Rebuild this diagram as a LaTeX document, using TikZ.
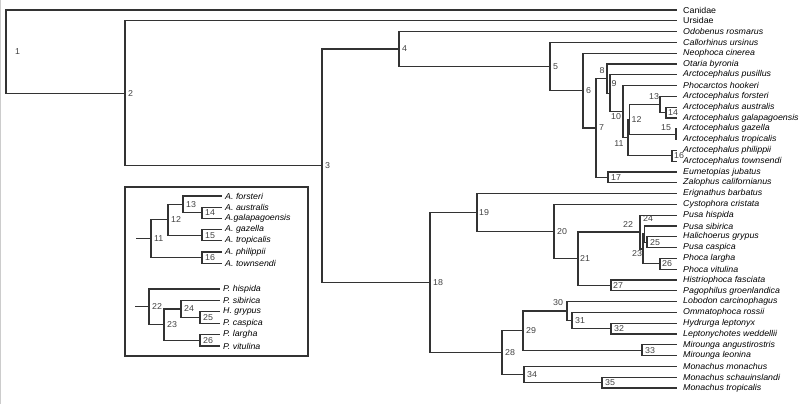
\documentclass[tikz,border=0pt]{standalone}
\usepackage{fontspec}
\setmainfont[FakeStretch=1.04]{Liberation Sans}
\usetikzlibrary{positioning}

\begin{document}
\begin{tikzpicture}[
  x=1pt, y=-1pt,
  branch/.style={draw=black!80, line width=1.25pt},
  leaf/.style={anchor=west, inner xsep=6pt, inner ysep=0pt, font=\fontsize{8.5}{9}\selectfont\itshape},
  taxon/.style={leaf, font=\fontsize{8.5}{9}\selectfont},
  inleaf/.style={leaf, inner xsep=3pt},
  num/.style={inner sep=0pt, font=\fontsize{8.5}{9}\selectfont, text=black!75},
  node distance=3pt,
]
\useasboundingbox (0,0) rectangle (803,404);
\draw[gray!40, line width=1pt] (0.5,0) -- (0.5,404);

% taxa of the main tree
\node[taxon] (canidae) at (677,10) {Canidae};
\node[taxon] (ursidae) at (677,20.8) {Ursidae};
\node[leaf] (odobenus) at (677,31.6) {Odobenus rosmarus};
\node[leaf] (callorhinus) at (677,42.4) {Callorhinus ursinus};
\node[leaf] (neophoca) at (677,53.2) {Neophoca cinerea};
\node[leaf] (otaria) at (677,64) {Otaria byronia};
\node[leaf] (pusillus) at (677,74.8) {Arctocephalus pusillus};
\node[leaf] (phocarctos) at (677,85.6) {Phocarctos hookeri};
\node[leaf] (forsteri) at (677,96.4) {Arctocephalus forsteri};
\node[leaf] (australis) at (677,107.2) {Arctocephalus australis};
\node[leaf] (galapagoensis) at (677,118) {Arctocephalus galapagoensis};
\node[leaf] (gazella) at (677,128.8) {Arctocephalus gazella};
\node[leaf] (tropicalis) at (677,139.6) {Arctocephalus tropicalis};
\node[leaf] (philippii) at (677,150.4) {Arctocephalus philippii};
\node[leaf] (townsendi) at (677,161.2) {Arctocephalus townsendi};
\node[leaf] (eumetopias) at (677,172) {Eumetopias jubatus};
\node[leaf] (zalophus) at (677,182.8) {Zalophus californianus};
\node[leaf] (erignathus) at (677,193.6) {Erignathus barbatus};
\node[leaf] (cystophora) at (677,204.4) {Cystophora cristata};
\node[leaf] (hispida) at (677,215.2) {Pusa hispida};
\node[leaf] (sibirica) at (677,226) {Pusa sibirica};
\node[leaf] (halichoerus) at (677,236.8) {Halichoerus grypus};
\node[leaf] (caspica) at (677,247.6) {Pusa caspica};
\node[leaf] (largha) at (677,258.4) {Phoca largha};
\node[leaf] (vitulina) at (677,269.2) {Phoca vitulina};
\node[leaf] (histriophoca) at (677,280) {Histriophoca fasciata};
\node[leaf] (pagophilus) at (677,290.8) {Pagophilus groenlandica};
\node[leaf] (lobodon) at (677,301.6) {Lobodon carcinophagus};
\node[leaf] (ommatophoca) at (677,312.4) {Ommatophoca rossii};
\node[leaf] (hydrurga) at (677,323.2) {Hydrurga leptonyx};
\node[leaf] (leptonychotes) at (677,334) {Leptonychotes weddellii};
\node[leaf] (angustirostris) at (677,344.8) {Mirounga angustirostris};
\node[leaf] (leonina) at (677,355.6) {Mirounga leonina};
\node[leaf] (monachus) at (677,366.4) {Monachus monachus};
\node[leaf] (schauinslandi) at (677,377.2) {Monachus schauinslandi};
\node[leaf] (mtropicalis) at (677,388) {Monachus tropicalis};

% internal nodes
\coordinate (n1) at (6,51.65);
\coordinate (n2) at (125,93.3);
\coordinate (n3) at (322,165.8);
\coordinate (n4) at (399,49.05);
\coordinate (n5) at (550,66.5);
\coordinate (n6) at (583,90.6);
\coordinate (n7) at (596,128);
\coordinate (n8) at (607,78.6);
\coordinate (n9) at (610,93.2);
\coordinate (n10) at (623,111.6);
\coordinate (n11) at (628,137.6);
\coordinate (n12) at (629.5,119.35);
\coordinate (n13) at (660,104.5);
\coordinate (n14) at (666,112.6);
\coordinate (n15) at (676,134.2);
\coordinate (n16) at (672,155.8);
\coordinate (n17) at (608,177.4);
\coordinate (n18) at (430,282.6);
\coordinate (n19) at (477,212.6);
\coordinate (n20) at (554,231.6);
\coordinate (n21) at (578,258.75);
\coordinate (n22) at (640,232.1);
\coordinate (n23) at (643,248.95);
\coordinate (n24) at (644.5,234.1);
\coordinate (n25) at (647,242.2);
\coordinate (n26) at (660,263.8);
\coordinate (n27) at (611,285.4);
\coordinate (n28) at (502,352.55);
\coordinate (n29) at (523,330.6);
\coordinate (n30) at (567,311.05);
\coordinate (n31) at (572,320.5);
\coordinate (n32) at (611,328.6);
\coordinate (n33) at (642,350.2);
\coordinate (n34) at (524,374.5);
\coordinate (n35) at (602,382.6);

% branches
\draw[branch] (n1) |- (canidae.west) (n1) |- (n2);
\draw[branch] (n2) |- (ursidae.west) (n2) |- (n3);
\draw[branch] (n3) |- (n4) (n3) |- (n18);
\draw[branch] (n4) |- (odobenus.west) (n4) |- (n5);
\draw[branch] (n5) |- (callorhinus.west) (n5) |- (n6);
\draw[branch] (n6) |- (neophoca.west) (n6) |- (n7);
\draw[branch] (n7) |- (n8) (n7) |- (n17);
\draw[branch] (n8) |- (otaria.west) (n8) |- (n9);
\draw[branch] (n9) |- (pusillus.west) (n9) |- (n10);
\draw[branch] (n10) |- (phocarctos.west) (n10) |- (n11);
\draw[branch] (n11) |- (n12) (n11) |- (n16);
\draw[branch] (n12) |- (n13) (n12) |- (n15);
\draw[branch] (n13) |- (forsteri.west) (n13) |- (n14);
\draw[branch] (n14) |- (australis.west) (n14) |- (galapagoensis.west);
\draw[branch] (n15) |- (gazella.west) (n15) |- (tropicalis.west);
\draw[branch] (n16) |- (philippii.west) (n16) |- (townsendi.west);
\draw[branch] (n17) |- (eumetopias.west) (n17) |- (zalophus.west);
\draw[branch] (n18) |- (n19) (n18) |- (n28);
\draw[branch] (n19) |- (erignathus.west) (n19) |- (n20);
\draw[branch] (n20) |- (cystophora.west) (n20) |- (n21);
\draw[branch] (n21) |- (n22) (n21) |- (n27);
\draw[branch] (n22) |- (hispida.west) (n22) |- (n23);
\draw[branch] (n23) |- (n24) (n23) |- (n26);
\draw[branch] (n24) |- (sibirica.west) (n24) |- (n25);
\draw[branch] (n25) |- (halichoerus.west) (n25) |- (caspica.west);
\draw[branch] (n26) |- (largha.west) (n26) |- (vitulina.west);
\draw[branch] (n27) |- (histriophoca.west) (n27) |- (pagophilus.west);
\draw[branch] (n28) |- (n29) (n28) |- (n34);
\draw[branch] (n29) |- (n30) (n29) |- (n33);
\draw[branch] (n30) |- (lobodon.west) (n30) |- (n31);
\draw[branch] (n31) |- (ommatophoca.west) (n31) |- (n32);
\draw[branch] (n32) |- (hydrurga.west) (n32) |- (leptonychotes.west);
\draw[branch] (n33) |- (angustirostris.west) (n33) |- (leonina.west);
\draw[branch] (n34) |- (monachus.west) (n34) |- (n35);
\draw[branch] (n35) |- (schauinslandi.west) (n35) |- (mtropicalis.west);

% node numbers
\node[num, right=9pt of n1] (l1) {1};
\node[num, right=of n2] (l2) {2};
\node[num, right=of n3] (l3) {3};
\node[num, right=of n4] (l4) {4};
\node[num, right=of n5] (l5) {5};
\node[num, right=of n6] (l6) {6};
\node[num, right=of n7] (l7) {7};
\node[num] (l8) at (602,71) {8};
\node[num] (l9) at (614,84) {9};
\node[num] (l10) at (616,117) {10};
\node[num] (l11) at (619,144) {11};
\node[num, right=2pt of n12] (l12) {12};
\node[num] (l13) at (654,97) {13};
\node[num, right=2pt of n14] (l14) {14};
\node[num] (l15) at (666,128) {15};
\node[num, right=2pt of n16] (l16) {16};
\node[num, right=of n17] (l17) {17};
\node[num, right=of n18] (l18) {18};
\node[num, right=2pt of n19] (l19) {19};
\node[num, right=of n20] (l20) {20};
\node[num, right=2pt of n21] (l21) {21};
\node[num] (l22) at (628,225) {22};
\node[num] (l23) at (637,254) {23};
\node[num] (l24) at (648,219) {24};
\node[num, right=of n25] (l25) {25};
\node[num, right=2pt of n26] (l26) {26};
\node[num, right=2pt of n27] (l27) {27};
\node[num, right=of n28] (l28) {28};
\node[num, right=of n29] (l29) {29};
\node[num] (l30) at (558,303) {30};
\node[num, right=of n31] (l31) {31};
\node[num, right=of n32] (l32) {32};
\node[num, right=of n33] (l33) {33};
\node[num, right=of n34] (l34) {34};
\node[num, right=of n35] (l35) {35};

% inset: Arctocephalus and Phocini clades
\draw[branch] (125,187) rectangle (308,356);
\node[inleaf] (iforsteri) at (222,196) {A. forsteri};
\node[inleaf] (iaustralis) at (222,207.2) {A. australis};
\node[inleaf] (igalapagoensis) at (222,218.4) {A.galapagoensis};
\node[inleaf] (igazella) at (222,229.6) {A. gazella};
\node[inleaf] (itropicalis) at (222,240.8) {A. tropicalis};
\node[inleaf] (iphilippii) at (222,252) {A. philippii};
\node[inleaf] (itownsendi) at (222,263.2) {A. townsendi};
\coordinate (a0) at (136,238.7);
\coordinate (i11) at (151,238.7);
\coordinate (i12) at (168,219.8);
\coordinate (i13) at (183,204.4);
\coordinate (i14) at (202,212.8);
\coordinate (i15) at (202,235.2);
\coordinate (i16) at (202,257.6);
\draw[branch] (a0) -- (i11);
\draw[branch] (i11) |- (i12) (i11) |- (i16);
\draw[branch] (i12) |- (i13) (i12) |- (i15);
\draw[branch] (i13) |- (iforsteri.west) (i13) |- (i14);
\draw[branch] (i14) |- (iaustralis.west) (i14) |- (igalapagoensis.west);
\draw[branch] (i15) |- (igazella.west) (i15) |- (itropicalis.west);
\draw[branch] (i16) |- (iphilippii.west) (i16) |- (itownsendi.west);
\node[num, right=of i11] {11};
\node[num, right=of i12] {12};
\node[num, right=of i13] {13};
\node[num, right=of i14] {14};
\node[num, right=of i15] {15};
\node[num, right=of i16] {16};

\node[inleaf] (ihispida) at (220,289) {P. hispida};
\node[inleaf] (isibirica) at (220,300.4) {P. sibirica};
\node[inleaf] (igrypus) at (220,311.8) {H. grypus};
\node[inleaf] (icaspica) at (220,323.2) {P. caspica};
\node[inleaf] (ilargha) at (220,334.6) {P. largha};
\node[inleaf] (ivitulina) at (220,346) {P. vitulina};
\coordinate (p0) at (135,306.8);
\coordinate (i22) at (149,306.8);
\coordinate (i23) at (164,324.6);
\coordinate (i24) at (181,308.95);
\coordinate (i25) at (200,317.5);
\coordinate (i26) at (200,340.3);
\draw[branch] (p0) -- (i22);
\draw[branch] (i22) |- (ihispida.west) (i22) |- (i23);
\draw[branch] (i23) |- (i24) (i23) |- (i26);
\draw[branch] (i24) |- (isibirica.west) (i24) |- (i25);
\draw[branch] (i25) |- (igrypus.west) (i25) |- (icaspica.west);
\draw[branch] (i26) |- (ilargha.west) (i26) |- (ivitulina.west);
\node[num, right=of i22] {22};
\node[num, right=of i23] {23};
\node[num, right=of i24] {24};
\node[num, right=of i25] {25};
\node[num, right=of i26] {26};
\end{tikzpicture}
\end{document}
